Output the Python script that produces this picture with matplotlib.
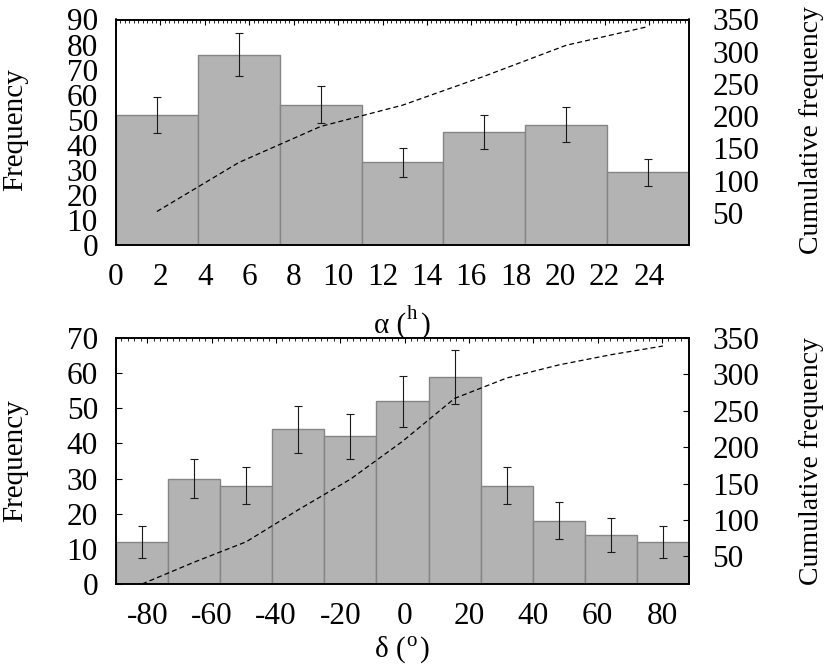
import matplotlib
matplotlib.use('Agg')
import matplotlib.pyplot as plt
import numpy as np
from matplotlib.ticker import MultipleLocator, FixedLocator

plt.rcParams['font.family'] = ['Liberation Serif', 'DejaVu Serif']
plt.rcParams['axes.unicode_minus'] = False

# ---- data ----
ra_range = (0.0, 25.8)
ra_counts = [52, 76, 56, 33, 45, 48, 29]
ra_errors = [7.2, 8.7, 7.5, 5.7, 6.7, 6.9, 5.4]
ra_xticks = [0, 2, 4, 6, 8, 10, 12, 14, 16, 18, 20, 22, 24]

dec_range = (-89.7, 88.4)
dec_counts = [12, 30, 28, 44, 42, 52, 59, 28, 18, 14, 12]
dec_errors = [4.6, 5.5, 5.3, 6.6, 6.5, 7.2, 7.7, 5.3, 5.3, 4.85, 4.6]
dec_xticks = [-80, -60, -40, -20, 0, 20, 40, 60, 80]

freq_ticks_top = [0, 10, 20, 30, 40, 50, 60, 70, 80, 90]
freq_ticks_bot = [0, 10, 20, 30, 40, 50, 60, 70]
cum_ticks = [50, 100, 150, 200, 250, 300, 350]

W, H = 830, 664
fig = plt.figure(figsize=(W / 100, H / 100), dpi=100)
FS = 22.5
LFS = 21


def rect(l, t, r, b):
    return [l / W, 1 - b / H, (r - l) / W, (b - t) / H]


def panel(rc, xr, counts, errors, xticks, minor_step, yticks, right_lim, side_ticks):
    ax = fig.add_axes(rc)
    n = len(counts)
    edges = np.linspace(xr[0], xr[1], n + 1)
    centers = (edges[:-1] + edges[1:]) / 2
    w = edges[1] - edges[0]
    ax.bar(centers, counts, width=w, color='#b3b3b3', edgecolor='#858585',
           linewidth=1.0, zorder=2)
    ax.errorbar(centers, counts, yerr=errors, fmt='none', ecolor='#1a1a1a',
                elinewidth=0.8, capsize=3, capthick=0.8, zorder=3)
    ax.set_xlim(*xr)
    ax.set_ylim(yticks[0], yticks[-1])
    ax.xaxis.set_major_locator(FixedLocator(xticks))
    ax.xaxis.set_minor_locator(MultipleLocator(minor_step))
    ax.set_yticks(yticks)
    ax.tick_params(axis='x', which='both', direction='in', bottom=False, top=True,
                   labelbottom=True, labeltop=False, labelsize=FS, pad=13)
    ax.tick_params(axis='x', which='major', length=3.8, width=0.8)
    ax.tick_params(axis='x', which='minor', length=1.8, width=0.6)
    ax.tick_params(axis='y', which='both', direction='in', right=False,
                   length=(4 if side_ticks else 0), width=0.8, labelsize=FS, pad=13)
    for s in ax.spines.values():
        s.set_linewidth(1.2)
    ax2 = ax.twinx()
    ax2.plot(centers, np.cumsum(counts), color='black', lw=0.9,
             ls=(0, (4, 2.5)), zorder=4)
    ax2.set_ylim(*right_lim)
    ax2.set_yticks(cum_ticks)
    ax2.tick_params(axis='y', direction='in', length=(4 if side_ticks else 0),
                    width=0.8, labelsize=FS, pad=17)
    for s in ax2.spines.values():
        s.set_linewidth(1.2)
    return ax, ax2


panel(rect(116, 19.5, 689, 245), ra_range, ra_counts, ra_errors, ra_xticks, 0.2,
      freq_ticks_top, (0, 350), False)
panel(rect(116, 338, 689, 584), dec_range, dec_counts, dec_errors, dec_xticks, 2,
      freq_ticks_bot, (12, 350), True)

fig.text(15 / W, 1 - 130 / H, 'Frequency', rotation=90, ha='center', va='center', fontsize=LFS)
fig.text(15 / W, 1 - 461 / H, 'Frequency', rotation=90, ha='center', va='center', fontsize=LFS)
fig.text(811 / W, 1 - 130 / H, 'Cumulative frequency', rotation=90, ha='center', va='center', fontsize=20)
fig.text(811 / W, 1 - 461 / H, 'Cumulative frequency', rotation=90, ha='center', va='center', fontsize=20)

renderer = fig.canvas.get_renderer()


def sup_label(xc, ybase, base, sup, fs, rise):
    parts = [(base + ' (', fs, 0, 0), (sup, fs * 0.72, 1, rise), (')', fs, 3, 0)]
    texts = []
    for s, size, gap, r in parts:
        t = fig.text(0, 0, s, fontsize=size, ha='left', va='baseline')
        wpx = t.get_window_extent(renderer).width
        texts.append((t, wpx, gap, r))
    total = sum(w + g for _, w, g, _ in texts)
    x = xc - total / 2
    for t, wpx, gap, r in texts:
        x += gap
        t.set_position((x / W, 1 - (ybase - r) / H))
        x += wpx


sup_label(402, 333, 'α', 'h', LFS, 14)
sup_label(402, 657, 'δ', 'o', LFS, 11)

fig.savefig('out.png', dpi=100)
